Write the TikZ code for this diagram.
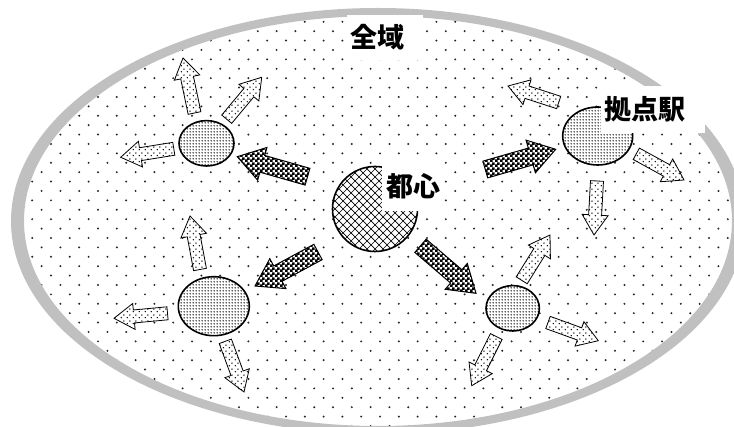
\documentclass[tikz,border=0pt]{standalone}
\usepackage{fontspec}
\newfontfamily\jp{Noto Sans CJK JP}
\usetikzlibrary{calc,patterns}
\definecolor{bandgray}{HTML}{C0C0C0}
\pgfdeclarepatternformonly{smalldots}{\pgfqpoint{0pt}{0pt}}{\pgfqpoint{6pt}{6pt}}{\pgfqpoint{6pt}{6pt}}{%
  \pgfpathcircle{\pgfqpoint{1.5pt}{1.5pt}}{0.85pt}%
  \pgfpathcircle{\pgfqpoint{4.5pt}{4.5pt}}{0.85pt}%
  \pgfusepath{fill}}
\pgfdeclarepatternformonly{finedots}{\pgfqpoint{0pt}{0pt}}{\pgfqpoint{3pt}{3pt}}{\pgfqpoint{3pt}{3pt}}{%
  \pgfpathcircle{\pgfqpoint{1.5pt}{1.5pt}}{1.0pt}\pgfusepath{fill}}
\pgfdeclarepatternformonly{checker}{\pgfqpoint{0pt}{0pt}}{\pgfqpoint{5pt}{5pt}}{\pgfqpoint{5pt}{5pt}}{%
  \pgfpathrectangle{\pgfqpoint{0pt}{0pt}}{\pgfqpoint{3pt}{3pt}}%
  \pgfpathrectangle{\pgfqpoint{2.5pt}{2.5pt}}{\pgfqpoint{3pt}{3pt}}%
  \pgfpathrectangle{\pgfqpoint{2.5pt}{0pt}}{\pgfqpoint{0.6pt}{5pt}}%
  \pgfusepath{fill}}
\tikzset{
  bigarrow/.style={draw=black, line width=1pt, line join=miter, preaction={fill=white}, pattern=checker, pattern color=black},
  smallarrow/.style={draw=black, line width=0.8pt, line join=miter, preaction={fill=white}, pattern=smalldots, pattern color=black},
  hub/.style={draw=black, line width=1.6pt, preaction={fill=white}, pattern=finedots, pattern color=black!80},
  labelbox/.style={fill=white, inner sep=3.3pt, font=\jp\bfseries\fontsize{27}{27}\selectfont},
  bgdot/.style={fill=black!85},
}
\newcommand\blockarrow[6]{%
  \coordinate (#2#3h) at ($(#3)!#6!(#2)$);
  \path[#1] ($(#2)!#4!90:(#3)$) -- ($(#2#3h)!#4!90:(#3)$) -- ($(#2#3h)!#5!90:(#3)$) -- (#3)
    -- ($(#2#3h)!#5!-90:(#3)$) -- ($(#2#3h)!#4!-90:(#3)$) -- ($(#2)!#4!-90:(#3)$) -- cycle;
}
\newcommand\bigarr[2]{\blockarrow{bigarrow}{#1}{#2}{8.7pt}{17pt}{26pt}}
\newcommand\smallarr[2]{\blockarrow{smallarrow}{#1}{#2}{6.5pt}{13pt}{20pt}}
\begin{document}
\begin{tikzpicture}[x=1pt,y=-1pt]
\useasboundingbox (0,0) rectangle (734,427);
\fill[white] (0,0) rectangle (734,427);
% background dots inside the region
\begin{scope}
  \clip (378,221) ellipse [x radius=354pt, y radius=205pt];
  \fill[bgdot] \foreach \r in {0,...,46} {
      \foreach \c in {0,...,40} {
        ({\c*18.8+mod(\r,2)*9.4+4},{\r*9.4+3}) circle (1.1pt)
      }
    };
\end{scope}
% outer band
\fill[bandgray, even odd rule] (378,221) ellipse [x radius=367pt, y radius=213pt]
  (378,221) ellipse [x radius=354pt, y radius=205pt];

% big arrows from the centre
\coordinate (b1a) at (307.5,176.7); \coordinate (b1b) at (237.3,156.7);
\coordinate (b2a) at (318,252);     \coordinate (b2b) at (255,286);
\coordinate (b3a) at (485.3,169.5); \coordinate (b3b) at (555.7,149.3);
\coordinate (b4a) at (420.5,245.8); \coordinate (b4b) at (476,293.3);
\bigarr{b1a}{b1b}
\bigarr{b2a}{b2b}
\bigarr{b3a}{b3b}
\bigarr{b4a}{b4b}

% small arrows from the hubs
\coordinate (s1a) at (194.5,113);   \coordinate (s1b) at (183,58);
\coordinate (s2a) at (226.7,119.2); \coordinate (s2b) at (261.7,77.3);
\coordinate (s3a) at (173.8,148.8); \coordinate (s3b) at (120.7,157.3);
\coordinate (s4a) at (200,269.5);   \coordinate (s4b) at (190,216);
\coordinate (s5a) at (167.5,313.3); \coordinate (s5b) at (114,318.3);
\coordinate (s6a) at (225.3,341.3); \coordinate (s6b) at (244,392);
\coordinate (s7a) at (521.7,280.3); \coordinate (s7b) at (550,235);
\coordinate (s8a) at (548,322.5);   \coordinate (s8b) at (598.3,340.7);
\coordinate (s9a) at (496.3,336.5); \coordinate (s9b) at (471.7,385.7);
\coordinate (s10a) at (558.7,102.5); \coordinate (s10b) at (508,86);
\coordinate (s11a) at (636.3,153.8); \coordinate (s11b) at (684,180);
\coordinate (s12a) at (597,181);     \coordinate (s12b) at (594,235);
\smallarr{s1a}{s1b}
\smallarr{s2a}{s2b}
\smallarr{s3a}{s3b}
\smallarr{s4a}{s4b}
\smallarr{s5a}{s5b}
\smallarr{s6a}{s6b}
\smallarr{s7a}{s7b}
\smallarr{s8a}{s8b}
\smallarr{s9a}{s9b}
\smallarr{s10a}{s10b}
\smallarr{s11a}{s11b}
\smallarr{s12a}{s12b}

% hubs
\path[hub] (206.5,143.3) ellipse [x radius=27.5pt, y radius=22.7pt];
\path[hub] (213.8,306.2) ellipse [x radius=35.5pt, y radius=29.5pt];
\path[hub] (512.7,308.3) ellipse [x radius=26.7pt, y radius=22.7pt];
\path[hub] (597.7,136) ellipse [x radius=35pt, y radius=29pt];

% centre (crosshatched)
\begin{scope}
  \clip (375,209) circle (42.5pt);
  \fill[white] (375,209) circle (42.5pt);
  \foreach \k in {-14,...,14} {
    \draw[line width=0.7pt] ({375+\k*8-50},159) -- ++(100,100);
    \draw[line width=0.7pt] ({375+\k*8+50},159) -- ++(-100,100);
  }
\end{scope}
\draw[line width=1.6pt] (375,209) circle (42.5pt);

% labels
\node[labelbox, minimum width=62pt, minimum height=50pt] (toshin) at (413,186) {都心};
\node[labelbox, text width=70pt, align=left, minimum height=45pt] (zeniki) at (385,37.5) {全域};
\node[labelbox, text width=97pt, align=left, minimum height=47pt] (kyoten) at (653,109.5) {拠点駅};
\end{tikzpicture}
\end{document}
